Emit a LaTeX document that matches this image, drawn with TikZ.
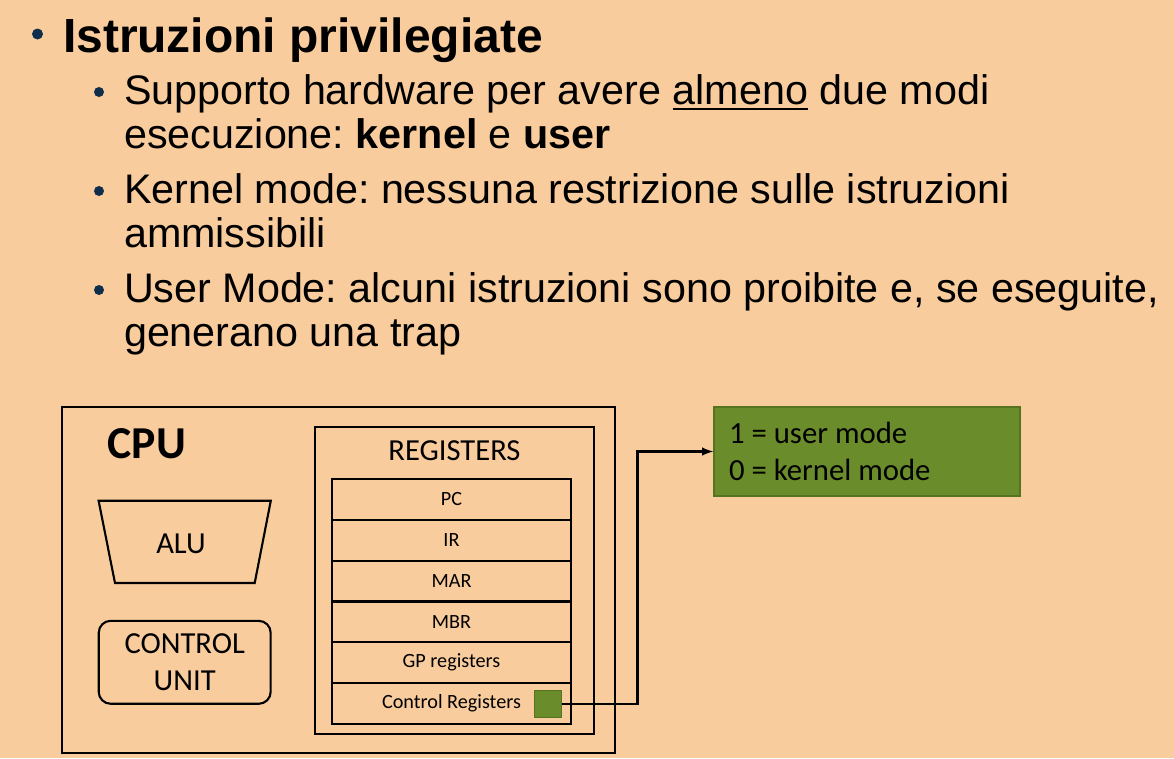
\documentclass[tikz,border=0pt]{standalone}
\usepackage{fontspec}
\setmainfont{Liberation Sans}
\newfontfamily\calibrifont{Carlito}
\usetikzlibrary{positioning}
\definecolor{slidebg}{HTML}{F9CC9D}
\definecolor{modegreen}{HTML}{6B8C2B}
\definecolor{modeedge}{HTML}{55741F}
\definecolor{bulletblue}{HTML}{0F2E4C}
\frenchspacing
% underline a word with a thicker, lower rule
\newcommand{\undl}[1]{\setbox0\hbox{#1}\rlap{\rule[-3.4pt]{\wd0}{1.1pt}}\box0\relax}

\begin{document}
\begin{tikzpicture}
[x=0.02cm, y=-0.02cm, line width=1.2pt,
% STYLES
% The headline and bodytext styles are used to write the slide text
headline/.style={anchor=base west, inner sep=0pt, font=\bfseries\fontsize{27.3}{32}\selectfont},
bodytext/.style={anchor=base west, inner sep=0pt, font=\fontsize{23.5}{28}\selectfont},
bullet/.style={circle, fill=bulletblue, inner sep=0pt, minimum size=0.2cm},
% The cpubox style is used to draw the blocks of the CPU
cpubox/.style={rectangle, draw, line width=1.2pt, inner sep=0pt},
cputext/.style={anchor=base, inner sep=0pt, font=\calibrifont\fontsize{17.4}{21}\selectfont},
regrow/.style={rectangle, draw, line width=1.2pt, inner sep=0pt, minimum width=4.78cm, minimum height=0.8166cm, font=\calibrifont\fontsize{11.5}{14}\selectfont},
bitsq/.style={rectangle, fill=modegreen, draw=modeedge, line width=0.6pt, minimum size=0.54cm, inner sep=0pt},
modebox/.style={rectangle, fill=modegreen, draw=modeedge, line width=0.9pt, minimum width=6.12cm, minimum height=1.78cm},
modetext/.style={anchor=base west, inner sep=0pt, font=\calibrifont\fontsize{17.5}{21}\selectfont}]

\fill[slidebg] (0,0) rectangle (1174,758);
\useasboundingbox (0,0) rectangle (1174,758);

% Draw text
\node[bullet, minimum size=0.22cm] (b0) at (37.5,34) {};
\node[headline] (title) at (62,52) {Istruzioni privilegiate};
\node[bullet] (b1) at (99,92) {};
\node[bodytext] (s1a) at (123,104) {Supporto hardware per avere \undl{almeno} due modi};
\node[bodytext] (s1b) at (123,148) {esecuzione: \textbf{kernel} e \textbf{user}};
\node[bullet] (b2) at (99,191) {};
\node[bodytext] (s2a) at (123,203) {Kernel mode: nessuna restrizione sulle istruzioni};
\node[bodytext] (s2b) at (123,247) {ammissibili};
\node[bullet] (b3) at (99,290) {};
\node[bodytext] (s3a) at (123,302) {User Mode: alcuni istruzioni sono proibite e, se eseguite,};
\node[bodytext] (s3b) at (123,346) {generano una trap};

% Draw CPU
\node[cpubox, minimum width=11.06cm, minimum height=6.92cm] (cpu) at (338.5,580) {};
\node[cputext, anchor=base west, font=\calibrifont\bfseries\fontsize{26}{30}\selectfont] (cpulabel) at (106.6,458) {CPU};
\draw (98.6,500.7) -- (270.8,500.7) -- (254.7,583) -- (115,583) -- cycle;
\node[cputext] (alu) at (181,553) {ALU};
\node[cpubox, rounded corners=0.24cm, minimum width=3.44cm, minimum height=1.66cm, align=center, font=\calibrifont\fontsize{17.4}{21}\selectfont] (cu) at (184.7,662.3) {CONTROL\\UNIT};

% Draw registers
\node[cpubox, minimum width=5.58cm, minimum height=6.14cm] (regs) at (454.5,580.5) {};
\node[cputext] (reglabel) at (454.5,460) {REGISTERS};
\foreach \reg [count=\i from 0] in {PC, IR, MAR, MBR, GP registers, Control Registers}
  \node[regrow] (reg\i) at (451.5,{499.4+40.83*\i}) {\reg};
\node[bitsq, left=0.2cm of reg5.east] (bit) {};

% Draw modes
\node[modebox] (mode) at (867,451.5) {};
\node[modetext] (m1) at (728,443) {1 = user mode};
\node[modetext] (m0) at (728,480) {0 = kernel mode};

\coordinate (elbow) at (637.5,600);
\draw [>=latex,->,line width=1.2pt] (bit.east) -| (elbow) |- (mode.west);

\end{tikzpicture}
\end{document}
